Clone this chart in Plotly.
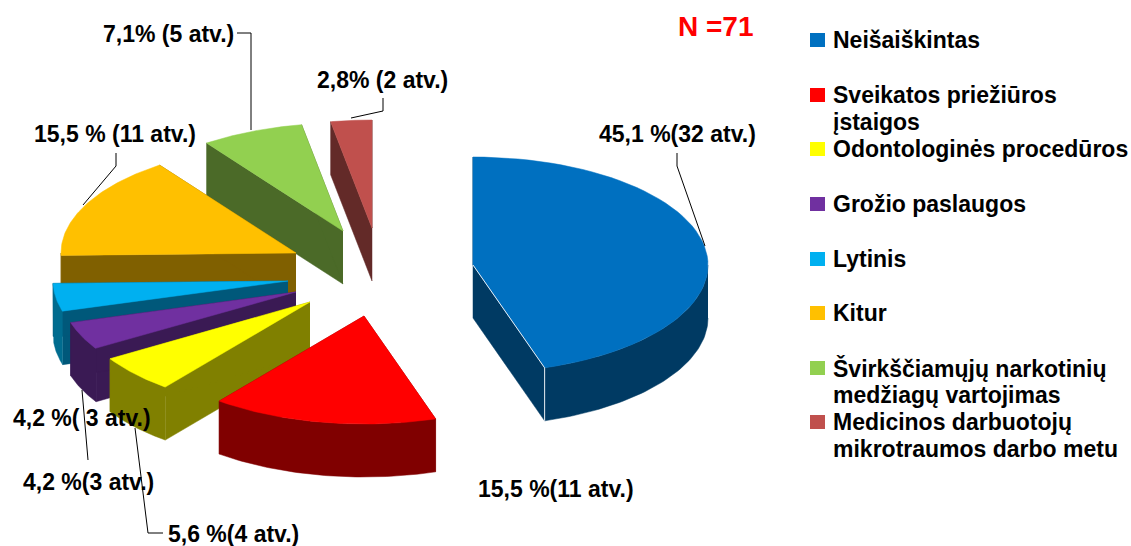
import numpy as np
import plotly.graph_objects as go

categories = ["Neišaiškintas", "Sveikatos priežiūros<br>įstaigos", "Odontologinės procedūros",
              "Grožio paslaugos", "Lytinis", "Kitur",
              "Švirkščiamųjų narkotinių<br>medžiagų vartojimas",
              "Medicinos darbuotojų<br>mikrotraumos darbo metu"]
cases = [32, 11, 4, 3, 3, 11, 5, 2]
labels = ["45,1 %(32 atv.)", "15,5 %(11 atv.)", "5,6 %(4 atv.)", "4,2 %(3 atv.)",
          "4,2 %( 3 atv.)", "15,5 % (11 atv.)", "7,1% (5 atv.)", "2,8% (2 atv.)"]

# styling
top_colors = ["#0070C0", "#FF0000", "#FFFF00", "#7030A0", "#00B0F0", "#FFC000", "#92D050", "#C0504D"]
side_colors = ["#003A63", "#800000", "#808000", "#3A1A54", "#00587A", "#806000", "#4B6A28", "#632A28"]
outer_colors = ["#003A63", "#800000", "#808000", "#3A1A54", "#006C8F", "#806000", "#4B6A28", "#632A28"]
centers = [(473, 265), (364, 316), (310, 302), (296, 292), (288, 281), (296, 253), (343, 231), (372, 228)]
rx, ry, depth = 235, 108, 53
draw_order = [7, 6, 5, 4, 3, 2, 1, 0]

label_pos = [(598, 134), (477, 489), (167, 534), (22, 482), (12, 418), (33, 134), (102, 34), (316, 80)]
legend_rows = [40, 95, 149, 204, 259, 313, 368, 422]
leaders = [
    [(677, 153), (677, 166), (705, 246)],
    [(135, 428), (148, 533), (163, 533)],
    [(82, 390), (88, 460)],
    [(116, 153), (116, 166), (83, 205)],
    [(237, 33), (251, 33), (251, 130)],
    [(383, 98), (383, 111), (351, 118)],
]

FONT = "Liberation Sans"

# slice edges, clockwise from 12 o'clock
edges = np.cumsum([0] + cases) / sum(cases) * 2 * np.pi


def arc(cx, cy, a0, a1, dy=0):
    t = np.linspace(a0, a1, 60)
    return cx + rx * np.sin(t), cy - ry * np.cos(t) + dy


def poly(fig, xs, ys, color, name):
    fig.add_trace(go.Scatter(x=list(xs), y=list(ys), mode="lines", fill="toself", fillcolor=color,
                             line=dict(color=color, width=0.5), name=name, hoverinfo="name",
                             showlegend=False))


fig = go.Figure()

for i in draw_order:
    cx, cy = centers[i]
    a0, a1 = edges[i], edges[i + 1]
    name = categories[i].replace("<br>", " ")

    # radial walls
    for a in (a0, a1):
        ex, ey = cx + rx * np.sin(a), cy - ry * np.cos(a)
        poly(fig, [cx, ex, ex, cx], [cy, ey, ey + depth, cy + depth], side_colors[i], name)

    # outer wall, only the front half of the ellipse shows
    f0, f1 = max(a0, np.pi / 2), min(a1, 3 * np.pi / 2)
    if f1 > f0:
        ux, uy = arc(cx, cy, f0, f1)
        lx, ly = arc(cx, cy, f0, f1, depth)
        poly(fig, np.r_[ux, lx[::-1]], np.r_[uy, ly[::-1]], outer_colors[i], name)

    # top face
    ax, ay = arc(cx, cy, a0, a1)
    poly(fig, np.r_[cx, ax, cx], np.r_[cy, ay, cy], top_colors[i], name)

# thin white edge on the big slice
cx, cy = centers[0]
ex, ey = cx + rx * np.sin(edges[1]), cy - ry * np.cos(edges[1])
fig.add_trace(go.Scatter(x=[cx, ex, ex], y=[cy, ey, ey + depth], mode="lines",
                         line=dict(color="#E8EEF4", width=1), hoverinfo="skip", showlegend=False))

for pts in leaders:
    fig.add_trace(go.Scatter(x=[p[0] for p in pts], y=[p[1] for p in pts], mode="lines",
                             line=dict(color="#000000", width=1), hoverinfo="skip", showlegend=False))

for text, (x, y) in zip(labels, label_pos):
    fig.add_annotation(x=x, y=y, text="<b>" + text + "</b>", showarrow=False, xanchor="left", yanchor="middle",
                       borderpad=0, font=dict(family=FONT, size=23, color="#000000"))

fig.add_annotation(x=676, y=26, text="<b>N =71</b>", showarrow=False, xanchor="left", yanchor="middle",
                   font=dict(family=FONT, size=28, color="#FF0000"))

for cat, row, color in zip(categories, legend_rows, top_colors):
    fig.add_shape(type="rect", x0=810, x1=825, y0=row - 7, y1=row + 7, fillcolor=color, line_width=0)
    # lines are 27 px apart, tighter than plotly's own line height
    for j, line in enumerate(cat.split("<br>")):
        fig.add_annotation(x=832, y=row + 27 * j, text="<b>" + line + "</b>", showarrow=False,
                           xanchor="left", yanchor="middle", borderpad=0,
                           font=dict(family=FONT, size=23, color="#000000"))

fig.update_xaxes(range=[0, 1131], visible=False, fixedrange=True)
fig.update_yaxes(range=[546, 0], visible=False, fixedrange=True)
fig.update_layout(width=1131, height=546, margin=dict(l=0, r=0, t=0, b=0),
                  paper_bgcolor="#FFFFFF", plot_bgcolor="#FFFFFF", showlegend=False)

fig.write_html("out.html", config={"displayModeBar": False},
               post_script="document.body.style.margin='0';document.body.style.overflow='hidden';")
